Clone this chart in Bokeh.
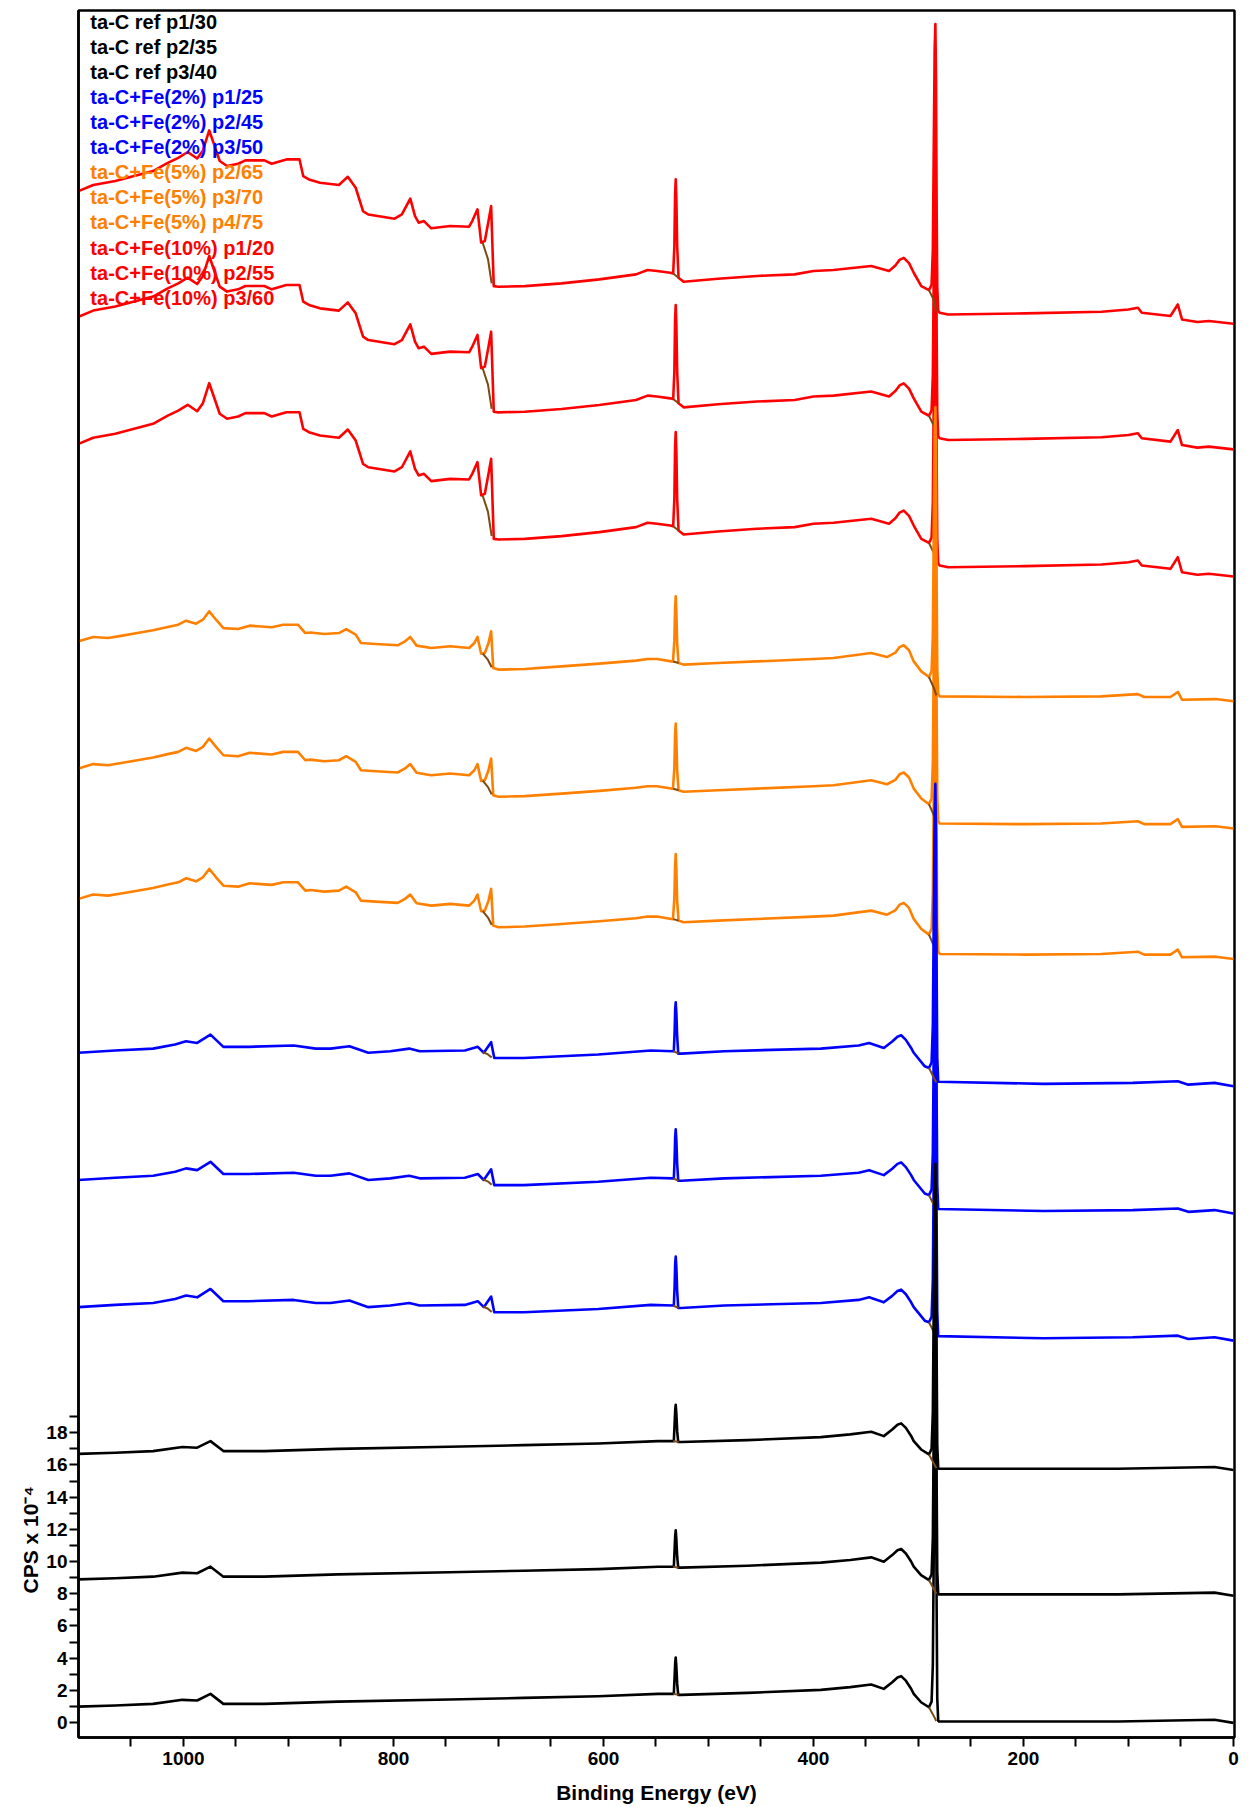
from bokeh.plotting import figure
from bokeh.models import Range1d, FixedTicker, Title, ColumnDataSource
from bokeh.core.properties import value
from bokeh.embed import file_html
from bokeh.resources import INLINE

FONT = "Liberation Sans"
NAN = float("nan")

# ---------------- axis ticks ----------------
x_ticks = [0, 200, 400, 600, 800, 1000]
x_minor = [50, 100, 150, 250, 300, 350, 450, 500, 550, 650, 700, 750, 850, 900, 950, 1050]
y_ticks = [0, 2, 4, 6, 8, 10, 12, 14, 16, 18]
y_minor = [1, 3, 5, 7, 9, 11, 13, 15, 17, 19]

# ---------------- legend ----------------
legend_names = ["ta-C ref p1/30", "ta-C ref p2/35", "ta-C ref p3/40",
                "ta-C+Fe(2%) p1/25", "ta-C+Fe(2%) p2/45", "ta-C+Fe(2%) p3/50",
                "ta-C+Fe(5%) p2/65", "ta-C+Fe(5%) p3/70", "ta-C+Fe(5%) p4/75",
                "ta-C+Fe(10%) p1/20", "ta-C+Fe(10%) p2/55", "ta-C+Fe(10%) p3/60"]
legend_colors = ["#000000"] * 3 + ["#0000FF"] * 3 + ["#FF8000"] * 3 + ["#FF0000"] * 3

# ---------------- spectra (binding energy eV, CPS x 1e-4) ----------------
black_ev = [1100, 1065, 1029, 1001, 987, 974.3, 962, 923, 853, 747,
            676, 605, 548, 534, 533, 532.3, 531.7, 531.2, 530.6, 529.8,
            528.8, 526, 463, 393, 365, 345, 333, 325, 320, 316.5,
            312, 307, 304.5, 297.5, 290, 287.5, 286.3, 285.4, 284.6, 283.9,
            283.3, 282.7, 282.1, 281.2, 280.5, 181, 110, 18, 0]
black_cps = [0.99, 1.06, 1.16, 1.41, 1.37, 1.78, 1.16, 1.16, 1.30, 1.43,
             1.53, 1.63, 1.78, 1.78, 1.78, 2.8, 3.7, 4.04, 3.5, 2.4,
             1.72, 1.72, 1.84, 2.03, 2.20, 2.36, 2.09, 2.5, 2.8, 2.88,
             2.6, 2.1, 1.78, 1.26, 0.95, 1.3, 3.6, 10.8, 17.2, 19.0,
             15.3, 7.3, 1.5, 0.12, 0.06, 0.06, 0.06, 0.17, -0.02]
black_offsets = [0.0, 7.9, 15.7]

blue_ev = [1100, 1065, 1029, 1008, 997.6, 987, 974.3, 962, 938, 895,
           874, 860, 842, 824, 803, 785, 775, 732, 719.7, 714,
           707, 704, 676, 605, 555, 534, 533, 532.3, 531.7, 531.2,
           530.6, 529.8, 528.8, 526, 485, 393, 357, 347, 333, 325,
           320, 316.5, 312, 307, 304.5, 294, 290, 287.5, 286.3, 285.4,
           284.6, 283.9, 283.3, 282.7, 282.1, 281.2, 181, 96, 53, 43,
           18, 0]
blue_cps = [25.80, 25.94, 26.06, 26.31, 26.52, 26.41, 26.93, 26.17, 26.17, 26.25,
            26.06, 26.06, 26.21, 25.80, 25.90, 26.06, 25.90, 25.94, 26.17, 25.80,
            26.46, 25.48, 25.48, 25.69, 25.94, 25.90, 25.90, 27.0, 28.5, 28.94,
            28.3, 26.8, 25.75, 25.75, 25.90, 26.06, 26.25, 26.41, 26.10, 26.5,
            26.8, 26.89, 26.6, 26.1, 25.80, 24.96, 24.86, 25.2, 27.5, 34.5,
            40.7, 42.5, 38.9, 31.0, 25.5, 24.0, 23.87, 23.93, 24.03, 23.82,
            23.93, 23.72]
blue_offsets = [0.0, 7.9, 15.8]

orange_ev = [1100, 1086, 1072, 1058, 1044, 1029, 1015, 1005, 997.5, 988,
             981.5, 975.5, 969, 962, 948, 937, 916, 905, 891, 884,
             879, 866, 852, 845, 836, 831, 817, 796, 789, 784,
             778, 764, 746, 728, 723, 720, 716.5, 713, 709.5, 707,
             705, 700, 675, 640, 604, 569, 558, 549, 535.5, 533.8,
             532.5, 531.8, 531.2, 530.6, 529.8, 528.5, 523.7, 491, 454, 400,
             381, 345, 330, 322, 318, 314, 309, 304.5, 297.3, 290,
             287.5, 286.3, 285.4, 284.6, 283.9, 283.3, 282.7, 282.1, 281.2, 279.8,
             199, 126, 91, 85, 60, 53, 49, 17, 0]
orange_cps = [51.16, 51.43, 51.36, 51.51, 51.67, 51.84, 52.05, 52.19, 52.44, 52.25,
              52.50, 53.02, 52.50, 51.98, 51.92, 52.13, 52.03, 52.19, 52.19, 51.67,
              51.71, 51.61, 51.67, 51.92, 51.57, 51.05, 50.99, 50.91, 51.16, 51.43,
              50.89, 50.74, 50.85, 50.74, 51.05, 51.43, 50.39, 50.43, 51.05, 51.78,
              49.50, 49.40, 49.44, 49.60, 49.77, 49.96, 50.06, 50.06, 49.91, 49.90,
              51.2, 53.2, 53.95, 53.0, 51.0, 49.81, 49.71, 49.81, 49.91, 50.06,
              50.12, 50.43, 50.18, 50.45, 50.8, 50.91, 50.6, 49.91, 49.29, 48.94,
              49.3, 51.5, 58.2, 64.0, 65.7, 62.3, 55.0, 49.5, 47.9, 47.74,
              47.70, 47.74, 47.88, 47.70, 47.70, 48.01, 47.53, 47.57, 47.43]
orange_offsets = [0.0, 8.1, 16.0]

red_ev = [1100, 1086, 1065, 1047, 1029, 1015, 1005, 996, 987, 981.5,
          975.5, 965.5, 958.5, 948, 941, 923, 916, 902, 889.5, 886,
          880.5, 870, 852, 843.5, 836, 833, 829, 824, 799, 792,
          784, 779.5, 776, 771, 764, 746, 728, 725, 720, 716.5,
          713, 709.5, 707, 704.5, 700, 675, 640, 604, 569, 558,
          549, 536.5, 533.6, 532.5, 531.8, 531.2, 530.6, 529.8, 528.5, 523.7,
          491, 454, 418, 400, 381, 345, 328, 322, 318, 314,
          309, 304.5, 297.3, 290, 287.5, 286.3, 285.4, 284.6, 283.9, 283.3,
          282.7, 282.1, 281.2, 279.8, 271.7, 198.7, 125.6, 100, 91, 87.3,
          60, 53, 49, 34.4, 23.4, 0]
red_cps = [79.42, 79.80, 80.05, 80.36, 80.67, 81.18, 81.49, 81.85, 81.45, 81.95,
           83.19, 81.29, 80.98, 81.12, 81.33, 81.33, 81.12, 81.39, 81.39, 80.36,
           80.15, 79.94, 79.80, 80.31, 79.63, 79.01, 78.18, 77.97, 77.71, 77.97,
           78.95, 77.87, 77.46, 77.56, 77.11, 77.25, 77.21, 77.56, 78.29, 76.22,
           76.32, 77.56, 78.49, 73.52, 73.48, 73.52, 73.69, 73.94, 74.25, 74.52,
           74.46, 74.35, 74.31, 76.0, 79.2, 80.15, 79.0, 76.0, 74.04, 73.79,
           73.98, 74.15, 74.25, 74.46, 74.52, 74.77, 74.46, 74.8, 75.15, 75.28,
           74.95, 74.35, 73.52, 73.27, 73.6, 75.8, 82.4, 88.2, 89.8, 86.5,
           78.5, 73.5, 72.0, 71.87, 71.76, 71.83, 71.93, 72.07, 72.18, 71.87,
           71.66, 72.38, 71.45, 71.29, 71.35, 71.18]
red_offsets = [0.0, 7.9, 15.7]

# background (Shirley-like) segments under the Fe 2p, O 1s and C 1s regions
bg_ev = [715, 710, 706.5, NAN, 533.6, 528.5, NAN, 290, 285, 283]
red_bg = [76.2, 75.2, 73.7, NAN, 74.31, 74.04, NAN, 73.27, 72.6, 71.95]
orange_bg = [50.4, 50.0, 49.55, NAN, 49.9, 49.81, NAN, 48.94, 48.2, 47.8]
blue_bg = [25.85, 25.7, 25.5, NAN, 25.9, 25.75, NAN, 24.86, 24.2, 23.95]
black_bg = [NAN, NAN, NAN, NAN, 1.78, 1.72, NAN, 0.95, 0.35, 0.1]
bg_color = "#7a4a12"

groups = [
    (red_ev, red_cps, red_offsets, red_bg, "#FF0000"),
    (orange_ev, orange_cps, orange_offsets, orange_bg, "#FF8000"),
    (blue_ev, blue_cps, blue_offsets, blue_bg, "#0000FF"),
    (black_ev, black_cps, black_offsets, black_bg, "#000000"),
]

# ---------------- figure ----------------
p = figure(width=1248, height=1807, output_backend="svg", toolbar_location=None,
           x_range=Range1d(1100, -1), y_range=Range1d(-0.93, 106.34),
           min_border_left=78, min_border_right=14, min_border_top=10, min_border_bottom=70)
p.background_fill_color = "white"
p.border_fill_color = "white"
p.outline_line_color = "black"
p.outline_line_width = 2.5
p.xgrid.visible = False
p.ygrid.visible = False

for ev, cps, offsets, bg, color in groups:
    for off in offsets:
        p.line(ev, [c + off for c in cps], line_color=color, line_width=2.6, line_join="round")
        p.line(bg_ev, [b + off for b in bg], line_color=bg_color, line_width=2.0)

# axes styling
for ax in (p.xaxis[0], p.yaxis[0]):
    ax.axis_line_width = 2.5
    ax.axis_line_color = "black"
    ax.major_tick_line_width = 2
    ax.minor_tick_line_width = 2
    ax.major_tick_out = 9
    ax.major_tick_in = 0
    ax.minor_tick_out = 9
    ax.minor_tick_in = 0
    ax.major_label_text_font = FONT
    ax.major_label_text_font_style = "bold"
    ax.major_label_text_font_size = "19px"
    ax.major_label_text_color = "black"

p.xaxis.ticker = FixedTicker(ticks=x_ticks, minor_ticks=x_minor)
p.yaxis.ticker = FixedTicker(ticks=y_ticks, minor_ticks=y_minor)
p.xaxis.major_label_standoff = 5
p.yaxis.major_label_standoff = 2
p.xaxis.axis_label = "Binding Energy (eV)"
p.xaxis.axis_label_text_font = FONT
p.xaxis.axis_label_text_font_style = "bold"
p.xaxis.axis_label_text_font_size = "21px"
p.xaxis.axis_label_text_color = "black"
p.xaxis.axis_label_standoff = 13

# y-axis title (placed near the labelled part of the axis)
p.add_layout(Title(text="CPS x 10\u207b\u2074", align="left", offset=144, standoff=4,
                   text_font=FONT, text_font_style="bold", text_font_size="21px",
                   text_color="black"), "left")

# legend as coloured text
leg_top = 105.65
leg_step = 1.559
src = ColumnDataSource(dict(
    x=[1088.7] * len(legend_names),
    y=[leg_top - i * leg_step for i in range(len(legend_names))],
    text=legend_names,
    color=legend_colors,
))
p.text(x="x", y="y", text="text", text_color="color", source=src,
       text_font=value(FONT), text_font_style="bold", text_font_size="20px",
       text_align="left", text_baseline="middle")

open("out.html", "w").write(file_html(p, INLINE))
